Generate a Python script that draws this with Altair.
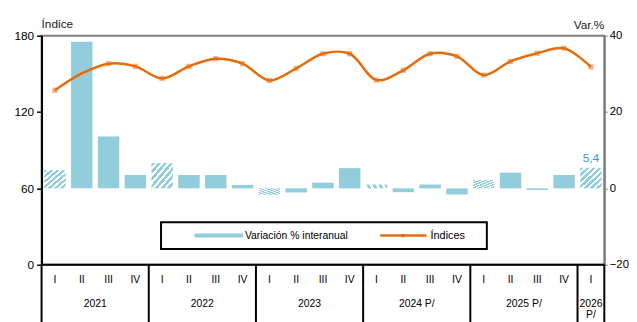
import altair as alt
import pandas as pd

# ---------------- data ----------------
quarters = ["I", "II", "III", "IV", "I", "II", "III", "IV", "I", "II", "III", "IV",
            "I", "II", "III", "IV", "I", "II", "III", "IV", "I"]
years = (["2021"] * 4 + ["2022"] * 4 + ["2023"] * 4 + ["2024 P/"] * 4
         + ["2025 P/"] * 4 + ["2026\nP/"])
indice = [137.1, 150.3, 158.0, 155.9, 146.4, 155.9, 161.9, 158.0, 144.8, 154.2,
          165.8, 165.8, 145.1, 152.8, 165.8, 163.7, 149.0, 159.8, 166.2, 170.1, 155.4]
variacion = [4.8, 38.4, 13.6, 3.5, 6.6, 3.5, 3.5, 0.9, -1.7, -1.1,
             1.5, 5.3, 1.0, -1.0, 1.0, -1.6, 2.2, 4.1, -0.4, 3.5, 5.4]
left_ticks = [0, 60, 120, 180]
right_ticks = [-20, 0, 20, 40]

BLUE = "#92CDDC"
ORANGE = "#E46C0A"
MARK = "#F4B183"
FONT = "Liberation Sans"

n = len(quarters)
labels = [""] * (n - 1) + [f"{variacion[-1]:.1f}".replace(".", ",")]
df = pd.DataFrame({
    "idx": list(range(n)),
    "quarter": quarters,
    "year": years,
    "indice": indice,
    "variacion": variacion,
    "hatched": [q == "I" for q in quarters],
    "label": labels,
})

# year boundaries
bounds = [-0.5] + [i - 0.5 for i in range(1, n) if years[i] != years[i - 1]] + [n - 0.5]
sep_df = pd.DataFrame({"b": bounds})
one = pd.DataFrame({"a": [0]})

W, H = 570, 232
x_scale = alt.Scale(domain=[-0.5, n - 0.5], nice=False, zero=False)

right_axis = alt.Axis(orient="right", values=right_ticks, title=None, grid=False,
                      domainColor="#808080", domainWidth=2, tickColor="#808080",
                      tickSize=3, tickWidth=1, labelColor="black", labelFont=FONT,
                      labelFontSize=11.5, labelPadding=2)
left_axis = alt.Axis(orient="left", values=left_ticks, title=None, grid=False,
                     domainColor="black", domainWidth=2, tickColor="black",
                     tickSize=5, tickWidth=1.5, labelColor="black", labelFont=FONT,
                     labelFontSize=12, labelPadding=3)

y_var = alt.Y("variacion:Q", scale=alt.Scale(domain=[-20, 40], nice=False, zero=False),
              axis=right_axis)
y_idx = alt.Y("indice:Q", scale=alt.Scale(domain=[0, 180], nice=False, zero=False),
              axis=left_axis)

# hatch gradient
stops = []
k_n = 7
for k in range(k_n):
    a = k / k_n
    h = 0.55 / k_n
    stops += [alt.GradientStop(offset=a, color=BLUE),
              alt.GradientStop(offset=a + h, color=BLUE),
              alt.GradientStop(offset=a + h, color="white"),
              alt.GradientStop(offset=min((k + 1) / k_n, 1.0), color="white")]
hatch = alt.Gradient(gradient="linear", stops=stops, x1=0, y1=0, x2=1, y2=1)

base = alt.Chart(df).transform_calculate(x0="datum.idx - 0.4", x1="datum.idx + 0.4")
bars_solid = base.transform_filter("!datum.hatched").mark_bar(color=BLUE).encode(
    x=alt.X("x0:Q", scale=x_scale, axis=None), x2="x1:Q", y=y_var, y2=alt.datum(0))
bars_hatch = base.transform_filter("datum.hatched").mark_bar(color=hatch).encode(
    x=alt.X("x0:Q", scale=x_scale, axis=None), x2="x1:Q", y=y_var, y2=alt.datum(0))
val_label = alt.Chart(df).transform_filter("datum.label != ''").mark_text(
    font=FONT, fontSize=12, color="#2F97D3", baseline="bottom", dy=-3).encode(
    x=alt.X("idx:Q", scale=x_scale, axis=None), y=y_var, text="label:N")
bar_group = alt.layer(bars_solid, bars_hatch, val_label)

markers = alt.Chart(df).mark_square(size=28, color=MARK, opacity=1).encode(
    x=alt.X("idx:Q", scale=x_scale, axis=None), y=y_idx)
line = alt.Chart(df).mark_line(color=ORANGE, strokeWidth=2.5, interpolate="catmull-rom").encode(
    x=alt.X("idx:Q", scale=x_scale, axis=None), y=y_idx)
line_group = alt.layer(markers, line)

xaxis_line = alt.Chart(one).mark_rule(color="black", strokeWidth=2).encode(
    x=alt.value(0), x2=alt.value(W), y=alt.value(H))
seps = alt.Chart(sep_df).mark_rule(color="black", strokeWidth=2).encode(
    x=alt.X("b:Q", scale=x_scale, axis=None), y=alt.value(H), y2=alt.value(H + 60))
q_labels = alt.Chart(df).mark_text(font=FONT, fontSize=10.5, color="black",
                                   baseline="middle").encode(
    x=alt.X("idx:Q", scale=x_scale, axis=None), y=alt.value(248), text="quarter:N")
y_labels = alt.Chart(df).transform_aggregate(
    xm="mean(idx)", groupby=["year"]).mark_text(
    font=FONT, fontSize=10.5, color="black", baseline="top", lineBreak="\n",
    lineHeight=11).encode(
    x=alt.X("xm:Q", scale=x_scale, axis=None), y=alt.value(267), text="year:N")

t_left = alt.Chart(one).mark_text(text="Índice", font=FONT, fontSize=12, color="#222",
                                  align="left", baseline="middle").encode(
    x=alt.value(0), y=alt.value(-12))
t_right = alt.Chart(one).mark_text(text="Var.%", font=FONT, fontSize=12, color="#222",
                                   align="right", baseline="middle").encode(
    x=alt.value(W), y=alt.value(-11))

# legend
leg_box = alt.Chart(one).mark_rect(fill="white", stroke="black", strokeWidth=2).encode(
    x=alt.value(121), x2=alt.value(451), y=alt.value(189), y2=alt.value(216))
leg_bar = alt.Chart(one).mark_rule(color=BLUE, strokeWidth=4).encode(
    x=alt.value(155), x2=alt.value(204), y=alt.value(202.5))
leg_bar_t = alt.Chart(one).mark_text(text="Variación % interanual", font=FONT, fontSize=10.5,
                                     color="black", align="left", baseline="middle").encode(
    x=alt.value(206), y=alt.value(202.5))
leg_line = alt.Chart(one).mark_rule(color=ORANGE, strokeWidth=2.5).encode(
    x=alt.value(343), x2=alt.value(390), y=alt.value(202.5))
leg_dot = alt.Chart(one).mark_circle(color=ORANGE, size=14, opacity=1).encode(
    x=alt.value(366), y=alt.value(202.5))
leg_line_t = alt.Chart(one).mark_text(text="Índices", font=FONT, fontSize=11,
                                      color="black", align="left", baseline="middle").encode(
    x=alt.value(394), y=alt.value(202.5))

chart = alt.layer(
    bar_group, line_group, xaxis_line, seps, q_labels, y_labels, t_left, t_right,
    leg_box, leg_bar, leg_bar_t, leg_line, leg_dot, leg_line_t
).resolve_scale(y="independent").properties(
    width=W, height=H, autosize="none",
    padding={"left": 34, "top": 26, "right": 25, "bottom": 56},
    background="white",
).configure_view(stroke="#808080", strokeWidth=2)

chart.save("out.html", embed_options={"renderer": "svg", "actions": False})
